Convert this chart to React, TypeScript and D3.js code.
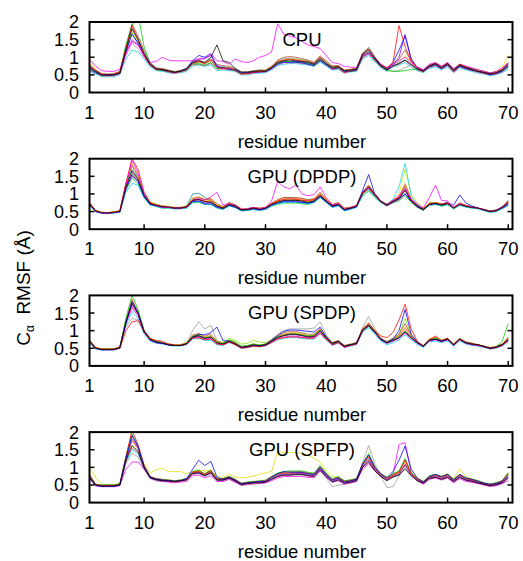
import React, { useEffect, useRef } from 'react';
import * as d3 from 'd3';

const residues = d3.range(1, 71);
const xTicks = [1, 10, 20, 30, 40, 50, 60, 70];
const yTicks = [0, 0.5, 1, 1.5, 2];
const yTickLabels = ['0', '0.5', '1', '1.5', '2'];
const panelTitles = ['CPU', 'GPU (DPDP)', 'GPU (SPDP)', 'GPU (SPFP)'];

// ---- CPU ----
const cpuRed = [.75,.62,.52,.5,.52,.58,1.25,1.9,1.5,1.05, .78,.65,.66,.6,.56,.6,.66,.82,.88,.82, .92,.72,.68,.7,.63,.52,.54,.57,.6,.6, .72,.88,.92,.95,.92,.9,.88,.82,1.0,.85, .68,.72,.56,.62,.66,1.08,1.2,.98,.78,.7, .85,1.9,1.3,.9,.7,.6,.74,.82,.7,.82, .6,.8,.72,.66,.6,.56,.52,.55,.65,.82];
const cpuGreen = [.68,.58,.48,.48,.5,.56,1.35,1.9,2.2,1.3, .82,.64,.62,.6,.58,.6,.64,.8,.82,.78, .85,.68,.7,.66,.62,.55,.55,.58,.6,.62, .7,.82,.88,.88,.86,.85,.82,.78,.92,.8, .7,.7,.6,.6,.64,1.0,1.12,.92,.74,.62, .6,.6,.62,.65,.66,.62,.74,.78,.7,.78, .62,.76,.7,.64,.6,.58,.52,.56,.62,.72];
const cpuBlue = [.65,.56,.5,.48,.5,.55,1.15,1.65,1.4,1.05, .78,.66,.64,.6,.56,.62,.68,.9,1.05,1.0, 1.1,.75,.7,.66,.64,.55,.56,.58,.58,.6, .68,.8,.86,.85,.86,.84,.8,.76,.9,.78, .66,.7,.6,.6,.64,1.05,1.15,.95,.75,.66, .85,1.2,1.6,.95,.7,.62,.72,.78,.68,.78, .6,.74,.68,.64,.6,.56,.5,.54,.6,.75];
const cpuMagenta = [.95,.75,.62,.6,.6,.66,1.1,1.5,1.35,1.05, .85,.88,1.0,.92,.9,.9,.9,.9,.95,.95, 1.1,.9,.88,.8,.95,.88,.85,.9,1.0,1.05, 1.15,1.95,1.65,1.6,1.55,1.45,1.35,1.3,1.25,1.05, .85,.82,.74,.72,.7,1.05,1.1,.98,.8,.7, .8,.9,1.0,.85,.72,.65,.8,.85,.75,.85, .68,.8,.75,.7,.65,.6,.55,.6,.7,.85];
const cpuBlack = [.7,.6,.5,.5,.5,.55,1.2,1.8,1.5,1.1, .8,.68,.65,.62,.58,.6,.66,.85,.9,.85, 1.0,1.35,.9,.85,.68,.58,.58,.6,.62,.6, .7,.85,.9,.92,.9,.88,.86,.8,.96,.82, .72,.74,.62,.64,.66,1.1,1.22,.98,.76,.64, .75,.82,.92,.8,.66,.6,.76,.82,.7,.82, .64,.78,.7,.66,.6,.57,.53,.56,.64,.8];
const cpuCyan = [.6,.52,.45,.44,.45,.5,.95,1.2,1.15,.95, .72,.62,.6,.56,.54,.56,.6,.75,.78,.74, .78,.62,.64,.62,.6,.5,.5,.54,.55,.56, .64,.76,.8,.82,.82,.8,.78,.74,.86,.75, .64,.65,.55,.58,.6,.95,1.05,.88,.7,.6, .72,.78,.85,.72,.62,.56,.68,.72,.64,.72, .56,.7,.64,.6,.55,.52,.48,.5,.56,.66];
const cpuPurple = [.72,.6,.5,.5,.5,.55,1.15,1.45,1.35,1.1, .8,.66,.64,.6,.56,.6,.65,.86,.95,.98, 1.05,.72,.7,.68,.64,.55,.55,.56,.6,.6, .7,.84,.86,.88,.88,.86,.82,.8,.92,.8, .7,.7,.6,.62,.64,1.02,1.12,.95,.75,.65, .78,1.0,1.65,.95,.7,.62,.74,.8,.7,.8, .62,.76,.7,.64,.6,.56,.52,.54,.62,.76];
const cpuYellow = [.9,.65,.52,.52,.52,.58,1.25,1.7,1.45,1.1, .82,.68,.66,.62,.58,.62,.66,.86,.86,.82, .9,.72,.72,.7,.66,.56,.56,.6,.62,.62, .72,.88,.95,.95,.95,.92,.88,.84,1.0,.86, .74,.75,.64,.66,.68,1.05,1.15,.98,.78,.68, .8,.88,1.05,.85,.72,.64,.78,.84,.74,.84, .66,.8,.74,.68,.64,.6,.56,.6,.72,1.05];
const cpuGray = [.76,.62,.52,.52,.52,.56,1.3,1.85,1.55,1.15, .82,.66,.66,.6,.56,.6,.66,.88,.86,.82, .92,.76,.74,.72,.66,.56,.56,.6,.6,.6, .72,.9,.96,.98,.96,.94,.9,.84,1.0,.86, .72,.72,.6,.62,.66,1.1,1.25,1.0,.78,.66, .6,.62,.7,.8,.7,.62,.76,.82,.72,.82, .62,.78,.72,.66,.6,.58,.54,.56,.64,.8];
const cpuTeal = [.74,.58,.48,.48,.48,.54,1.2,1.7,1.4,1.05, .8,.66,.64,.58,.56,.58,.64,.82,.8,.76, .84,.68,.68,.66,.62,.54,.54,.56,.58,.58, .68,.82,.88,.88,.88,.86,.84,.8,.94,.8, .68,.7,.58,.6,.62,1.02,1.12,.92,.74,.64, .76,.84,.92,.78,.66,.6,.72,.78,.68,.78, .6,.74,.68,.62,.58,.55,.5,.54,.6,.74];
const cpuSienna = [.8,.64,.54,.52,.54,.6,1.3,1.95,1.6,1.2, .85,.7,.68,.64,.6,.62,.68,.9,.92,.86, .95,.8,.76,.74,.68,.58,.58,.62,.64,.64, .75,.92,1.0,1.02,1.0,.96,.92,.86,1.04,.9, .76,.76,.64,.66,.7,1.12,1.28,1.02,.8,.7, .82,.95,1.2,.88,.72,.64,.78,.84,.74,.84, .66,.8,.74,.68,.64,.6,.56,.58,.66,.85];
const cpuPink = [.62,.55,.46,.46,.47,.52,1.05,1.4,1.25,1.0, .76,.64,.62,.58,.55,.58,.62,.78,.8,.76, .82,.66,.66,.64,.62,.52,.52,.55,.57,.58, .66,.78,.84,.84,.84,.82,.8,.76,.9,.78, .66,.68,.56,.6,.62,.98,1.08,.9,.72,.62, .74,.8,.9,.76,.64,.58,.7,.76,.66,.76, .58,.72,.66,.62,.57,.54,.5,.52,.58,.7];

// ---- GPU (DPDP) ----
const dpdpRed = [.75,.52,.47,.46,.48,.52,1.3,2.0,1.7,1.05, .75,.68,.64,.62,.6,.6,.64,.82,.85,.78, .8,.66,.6,.72,.66,.56,.56,.6,.58,.6, .72,.8,.85,.86,.85,.82,.8,.84,.98,.82, .68,.72,.56,.6,.66,1.05,1.2,1.0,.8,.68, .8,.9,1.15,.82,.66,.56,.72,.74,.7,.74, .6,.72,.66,.62,.6,.55,.5,.52,.62,.78];
const dpdpMagenta = [.72,.52,.46,.46,.47,.5,1.25,1.95,1.6,1.0, .72,.66,.62,.62,.6,.6,.62,.82,.85,.82, .92,1.05,.68,.72,.68,.56,.58,.62,.58,.62, .8,1.35,1.2,1.15,1.25,1.0,.95,.98,1.2,.9, .7,.72,.58,.62,.66,1.02,1.15,.96,.78,.7, .82,.95,1.15,.85,.72,.6,.9,1.25,.82,.8, .62,.72,.66,.62,.6,.55,.5,.54,.62,.76];
const dpdpBlue = [.7,.5,.46,.45,.47,.5,1.15,1.55,1.35,.92, .7,.68,.62,.62,.6,.6,.62,.78,.8,.72, .72,.62,.58,.68,.62,.54,.55,.58,.55,.58, .68,.74,.78,.78,.78,.76,.74,.78,.92,.78, .64,.68,.54,.58,.64,1.1,1.55,1.0,.8,.7, .8,.86,1.0,.8,.64,.55,.7,.72,.7,.75, .68,.97,.75,.66,.6,.55,.5,.52,.6,.7];
const dpdpCyan = [.68,.5,.45,.45,.46,.48,1.05,1.3,1.25,.88, .68,.64,.6,.6,.58,.58,.6,.76,.78,.7, .7,.62,.56,.66,.62,.52,.53,.56,.53,.56, .65,.72,.76,.76,.76,.74,.72,.76,.9,.76, .62,.66,.52,.56,.62,.95,1.1,.92,.76,.7, .85,1.2,1.87,.95,.7,.56,.68,.7,.66,.7, .58,.68,.63,.6,.58,.53,.48,.5,.58,.68];
const dpdpYellow = [.74,.54,.48,.47,.5,.52,1.2,1.55,1.45,1.0, .78,.7,.66,.64,.62,.62,.66,.82,.84,.8, .82,.68,.62,.72,.66,.56,.57,.6,.58,.6, .72,.78,.84,.84,.84,.82,.78,.82,.98,.84, .68,.72,.58,.62,.66,1.0,1.12,.96,.8,.72, .82,1.0,1.7,1.0,.75,.62,.74,.76,.7,.74, .62,.72,.66,.62,.6,.55,.5,.52,.6,.72];
const dpdpBlack = [.72,.52,.47,.46,.48,.5,1.2,1.65,1.42,.96, .72,.68,.64,.63,.6,.6,.63,.82,.84,.78, .76,.66,.6,.7,.66,.55,.56,.6,.56,.6, .7,.76,.82,.82,.82,.8,.76,.8,.96,.8, .66,.7,.56,.6,.65,1.02,1.2,.98,.78,.68, .78,.86,1.1,.8,.66,.56,.7,.74,.68,.72, .6,.7,.65,.62,.6,.55,.5,.53,.62,.76];
const dpdpGreen = [.66,.5,.45,.44,.46,.48,1.1,1.45,1.3,.9, .7,.64,.6,.6,.58,.58,.6,.75,.76,.7, .7,.6,.56,.66,.62,.52,.53,.56,.54,.56, .66,.7,.74,.74,.74,.72,.7,.76,.9,.76, .62,.68,.52,.58,.62,.95,1.08,.9,.75,.66, .75,.8,.95,.76,.62,.53,.68,.7,.65,.7, .58,.68,.63,.6,.58,.53,.48,.5,.58,.68];
const dpdpOrange = [.76,.54,.48,.47,.5,.52,1.3,1.85,1.55,1.0, .76,.7,.66,.64,.62,.62,.66,.88,.92,.85, .88,.7,.64,.74,.68,.58,.58,.62,.6,.62, .74,.82,.9,.9,.88,.86,.82,.86,1.02,.86, .7,.74,.6,.62,.68,1.05,1.25,1.0,.8,.7, .8,.9,1.3,.86,.68,.58,.74,.76,.72,.76, .62,.74,.68,.64,.6,.56,.52,.54,.62,.8];
const dpdpPurple = [.7,.52,.46,.46,.48,.5,1.15,1.5,1.38,.95, .72,.66,.62,.62,.6,.6,.62,.8,.8,.74, .76,.64,.6,.7,.64,.55,.55,.58,.56,.58, .7,.76,.8,.8,.8,.76,.74,.78,.94,.78, .64,.7,.55,.6,.64,1.0,1.15,.95,.78,.66, .76,.84,1.0,.8,.64,.55,.7,.72,.68,.72, .6,.7,.64,.62,.6,.55,.5,.52,.6,.7];
const dpdpTeal = [.72,.52,.47,.46,.48,.5,1.25,1.7,1.45,.98, .74,.68,.64,.62,.6,.6,.66,1.0,1.02,.9, .8,.66,.62,.7,.66,.56,.56,.6,.56,.6, .72,.78,.82,.82,.82,.8,.78,.82,.95,.8, .66,.72,.56,.6,.66,1.0,1.15,.95,.78,.7, .8,.88,1.1,.82,.66,.56,.72,.74,.7,.74, .62,.72,.66,.62,.6,.55,.52,.54,.62,.74];
const dpdpSienna = [.74,.53,.48,.47,.49,.52,1.28,1.8,1.5,1.0, .76,.7,.66,.64,.62,.62,.66,.86,.9,.84, .86,.72,.64,.76,.7,.58,.58,.62,.6,.62, .74,.84,.9,.9,.9,.88,.84,.86,1.05,.86, .7,.76,.6,.62,.68,1.05,1.25,1.0,.8,.7, .8,.92,1.25,.86,.68,.58,.74,.76,.72,.76, .62,.74,.68,.64,.6,.56,.52,.54,.64,.82];
const dpdpPink = [.7,.5,.46,.45,.47,.5,1.2,1.6,1.4,.94, .72,.66,.62,.62,.6,.6,.62,.82,.88,.82, .84,.66,.6,.7,.64,.55,.55,.58,.56,.58, .7,.8,.86,.86,.86,.84,.8,.8,.96,.8, .66,.7,.56,.6,.64,1.02,1.2,.96,.78,.68, .78,.9,1.2,.82,.66,.56,.72,.74,.7,.74, .6,.72,.66,.62,.6,.55,.5,.52,.6,.74];

// ---- GPU (SPDP) ----
const spdpGray = [.75,.5,.46,.46,.46,.5,1.1,1.35,1.3,.95, .72,.66,.64,.6,.58,.58,.64,1.0,1.25,1.05, 1.15,.72,.65,.72,.64,.52,.54,.58,.56,.6, .75,.9,1.0,1.05,1.05,1.05,1.05,1.08,1.25,.88, .66,.7,.56,.6,.66,1.1,1.4,1.05,.8,.7, .78,.85,1.0,.82,.68,.58,.75,.8,.72,.78, .62,.76,.68,.64,.6,.56,.52,.54,.62,.8];
const spdpBlue = [.68,.5,.46,.46,.46,.5,1.2,1.8,1.5,.98, .74,.66,.64,.6,.58,.58,.62,.82,.9,.88, .95,1.1,.72,.7,.62,.52,.54,.58,.56,.6, .72,.86,.98,1.02,1.02,1.0,.98,.96,1.1,.82, .64,.7,.56,.6,.64,1.02,1.15,.96,.76,.66, .76,1.0,1.6,.9,.68,.56,.72,.76,.7,.76, .6,.76,.66,.62,.6,.55,.5,.53,.6,.72];
const spdpRed = [.72,.52,.47,.47,.47,.5,1.0,1.25,1.28,1.0, .78,.72,.7,.62,.58,.58,.62,.78,.8,.74, .76,.62,.6,.68,.6,.5,.52,.56,.55,.58, .66,.76,.8,.82,.82,.8,.78,.78,.92,.75, .6,.66,.54,.58,.62,1.02,1.2,1.0,.85,.8, .95,1.3,1.75,1.05,.7,.56,.74,.85,.72,.78, .6,.75,.66,.62,.6,.55,.5,.52,.58,.72];
const spdpGreen = [.72,.5,.47,.47,.47,.52,1.35,2.0,1.6,1.0, .76,.68,.65,.6,.58,.58,.64,.84,.86,.8, .82,.66,.64,.74,.68,.56,.58,.62,.6,.62, .72,.82,.86,.9,.9,.88,.85,.86,1.0,.8, .62,.68,.56,.6,.64,1.0,1.12,.95,.76,.66, .74,.82,.98,.82,.66,.56,.74,.78,.72,.76, .6,.76,.66,.62,.6,.56,.5,.54,.7,1.2];
const spdpBlack = [.7,.5,.47,.47,.47,.52,1.25,1.75,1.48,.96, .75,.68,.65,.6,.58,.58,.63,.82,.86,.78, .82,.66,.62,.7,.63,.53,.55,.6,.57,.6, .7,.8,.86,.9,.9,.86,.82,.84,1.0,.8, .64,.7,.56,.6,.64,1.02,1.15,.96,.75,.66, .72,.8,.96,.8,.66,.56,.72,.76,.7,.76, .6,.76,.66,.62,.6,.55,.5,.53,.6,.76];
const spdpCyan = [.64,.48,.45,.45,.45,.5,1.15,1.55,1.35,.9, .7,.64,.62,.58,.56,.56,.6,.76,.78,.72, .72,.6,.58,.66,.6,.5,.52,.55,.54,.56, .66,.74,.78,.8,.8,.78,.76,.76,.92,.74, .58,.64,.52,.56,.6,.95,1.08,.9,.7,.6, .66,.74,.88,.74,.6,.52,.68,.7,.66,.7, .56,.7,.62,.58,.56,.52,.48,.5,.56,.68];
const spdpMagenta = [.7,.5,.46,.46,.46,.52,1.2,1.65,1.42,.95, .74,.66,.64,.6,.58,.58,.62,.8,.82,.76, .78,.64,.6,.68,.62,.52,.54,.58,.56,.58, .68,.78,.82,.84,.84,.82,.8,.8,.95,.76, .6,.66,.52,.58,.62,.98,1.12,.94,.74,.64, .7,.78,.92,.78,.64,.55,.7,.74,.68,.74, .58,.74,.64,.6,.58,.54,.48,.52,.58,.72];
const spdpLime = [.72,.52,.48,.48,.48,.53,1.3,1.8,1.5,.98, .76,.7,.66,.62,.6,.6,.64,.84,.88,.8, .84,.68,.66,.78,.72,.62,.64,.72,.68,.66, .74,.84,.9,.92,.92,.9,.86,.86,1.02,.8, .64,.7,.56,.6,.64,1.02,1.18,.98,.78,.68, .76,.88,1.35,.86,.68,.56,.74,.78,.72,.76, .62,.76,.66,.62,.6,.55,.5,.54,.62,.78];
const spdpOrange = [.74,.52,.48,.48,.48,.54,1.3,1.9,1.55,1.0, .78,.7,.66,.62,.6,.6,.66,.86,.9,.82, .86,.7,.64,.72,.66,.55,.56,.62,.58,.62, .72,.84,.9,.94,.94,.9,.86,.88,1.04,.82, .66,.72,.58,.62,.66,1.05,1.2,1.0,.78,.68, .76,.86,1.1,.84,.68,.57,.76,.8,.72,.78, .62,.78,.68,.64,.6,.56,.52,.55,.62,.8];
const spdpPurple = [.7,.5,.46,.46,.47,.52,1.25,1.85,1.52,.98, .74,.68,.64,.6,.58,.58,.62,.8,.84,.78, .8,.64,.6,.7,.62,.52,.54,.58,.56,.58, .68,.8,.86,.88,.88,.86,.82,.82,.98,.78, .6,.68,.54,.6,.62,1.0,1.14,.96,.74,.64, .72,.8,.96,.8,.64,.55,.72,.76,.7,.74, .6,.74,.64,.6,.58,.54,.5,.52,.6,.74];
const spdpSienna = [.72,.52,.48,.48,.48,.54,1.28,1.85,1.52,1.0, .78,.7,.66,.62,.6,.6,.66,.88,.92,.84, .9,.7,.64,.72,.66,.55,.56,.62,.58,.62, .74,.86,.94,.98,.98,.94,.9,.9,1.06,.84, .66,.72,.58,.62,.66,1.05,1.22,1.0,.78,.68, .78,.9,1.2,.86,.68,.57,.76,.8,.72,.78, .62,.78,.68,.64,.6,.56,.52,.55,.62,.82];
const spdpPink = [.7,.5,.46,.46,.46,.52,1.22,1.7,1.45,.95, .74,.68,.64,.6,.58,.58,.62,.82,.84,.78, .82,.66,.6,.7,.62,.52,.54,.58,.56,.6, .7,.82,.88,.9,.9,.88,.84,.84,1.0,.8, .62,.68,.55,.6,.64,1.0,1.16,.95,.75,.66, .74,.84,1.05,.8,.66,.56,.72,.76,.7,.76, .6,.76,.66,.62,.6,.55,.5,.53,.6,.76];

// ---- GPU (SPFP) ----
const spfpYellow = [1.0,.72,.52,.5,.5,.55,1.15,1.6,1.45,1.1, .85,.93,.98,.88,.88,.88,.82,.88,.92,.9, .92,.75,.72,.8,.72,.7,.72,.75,.8,.85, .88,1.45,1.42,1.42,1.42,1.4,1.35,1.25,1.15,.9, .75,.72,.62,.64,.68,1.05,1.2,.98,.8,.7, .78,.86,1.05,.85,.7,.6,.75,.8,.74,.82, .68,.95,.75,.68,.62,.56,.52,.56,.62,.8];
const spfpGray = [.72,.5,.47,.47,.47,.5,1.1,1.4,1.3,.95, .68,.62,.6,.6,.58,.6,.62,.8,.82,.74, .8,.62,.6,.66,.58,.48,.5,.52,.54,.56, .64,.74,.78,.78,.78,.78,.76,.74,.92,.7, .45,.5,.52,.55,.6,1.15,1.62,1.1,.75,.43, .45,.75,1.0,.78,.62,.54,.68,.72,.66,.72, .58,.7,.62,.58,.55,.5,.46,.48,.55,.68];
const spfpBlue = [.7,.48,.46,.46,.46,.5,1.25,1.9,1.6,1.02, .72,.66,.64,.62,.6,.62,.68,.95,1.2,1.05, 1.17,.72,.66,.72,.64,.54,.56,.58,.6,.6, .72,.82,.88,.86,.86,.86,.82,.8,1.0,.8, .64,.7,.58,.62,.66,1.1,1.35,1.0,.82,.7, .88,1.2,1.6,.95,.7,.58,.74,.8,.74,.8, .64,.8,.7,.66,.6,.55,.52,.54,.6,.78];
const spfpMagenta = [.68,.48,.45,.45,.45,.48,.95,1.15,1.15,.95, .7,.62,.6,.58,.56,.58,.6,.76,.78,.7, .76,.6,.6,.66,.58,.5,.52,.54,.55,.56, .62,.7,.74,.74,.74,.74,.72,.7,.9,.72, .58,.62,.52,.56,.6,.95,1.1,.9,.74,.64, .78,1.65,1.7,.85,.62,.52,.66,.7,.64,.7, .56,.68,.6,.58,.54,.5,.46,.48,.54,.62];
const spfpRed = [.78,.52,.48,.48,.48,.52,1.3,2.05,1.65,1.05, .72,.68,.64,.63,.6,.62,.66,.86,.88,.8, .9,.66,.66,.72,.64,.54,.56,.58,.6,.62, .72,.8,.84,.84,.85,.85,.82,.8,1.0,.8, .64,.7,.6,.62,.66,1.08,1.3,.98,.8,.68, .78,.86,1.2,.82,.66,.58,.72,.78,.72,.78, .64,.78,.68,.64,.6,.54,.5,.54,.6,.82];
const spfpBlack = [.72,.5,.47,.47,.47,.5,1.2,1.62,1.45,.98, .7,.65,.62,.62,.6,.62,.65,.82,.84,.76, .85,.64,.64,.7,.62,.52,.54,.56,.56,.58, .66,.74,.78,.78,.8,.8,.76,.74,.92,.74, .58,.64,.55,.58,.62,1.0,1.15,.9,.74,.62, .72,.78,.95,.76,.62,.55,.68,.72,.66,.72, .6,.72,.64,.6,.56,.52,.48,.5,.56,.7];
const spfpGreen = [.8,.52,.5,.5,.5,.54,1.3,1.95,1.6,1.05, .74,.68,.66,.64,.62,.64,.68,.88,.92,.82, .92,.68,.68,.74,.66,.55,.58,.6,.62,.64, .74,.84,.88,.9,.9,.9,.86,.84,1.05,.84, .68,.74,.62,.64,.68,1.1,1.4,1.02,.82,.72, .82,.9,1.25,.86,.68,.6,.76,.8,.74,.8, .66,.8,.7,.66,.62,.56,.52,.56,.62,.85];
const spfpCyan = [.7,.5,.47,.47,.47,.5,1.15,1.5,1.4,1.0, .7,.64,.62,.62,.6,.62,.64,.84,.86,.78, .86,.64,.64,.7,.62,.52,.54,.56,.58,.6, .7,.78,.82,.82,.82,.82,.8,.78,.96,.78, .62,.68,.58,.6,.64,1.04,1.22,.95,.76,.66, .74,.82,1.08,.8,.64,.56,.7,.74,.7,.74, .62,.74,.66,.62,.58,.53,.5,.52,.58,.74];
const spfpOrange = [.76,.5,.48,.48,.48,.5,1.2,1.75,1.52,1.0, .72,.66,.64,.62,.6,.62,.65,.86,.88,.8, .9,.66,.66,.72,.64,.52,.56,.58,.58,.6, .72,.8,.84,.84,.84,.84,.82,.8,.98,.8, .64,.7,.6,.62,.66,1.06,1.28,.96,.8,.66, .76,.84,1.12,.82,.66,.58,.72,.76,.72,.76, .64,.76,.68,.64,.6,.54,.5,.54,.6,.76];
const spfpPurple = [.72,.5,.48,.48,.48,.5,1.2,1.8,1.55,1.0, .7,.66,.62,.6,.6,.62,.65,.84,.86,.78, .86,.64,.64,.7,.6,.5,.54,.56,.58,.58, .68,.76,.8,.8,.82,.82,.78,.76,.96,.76, .6,.66,.56,.58,.64,1.02,1.22,.94,.76,.64, .74,.8,1.08,.78,.64,.56,.7,.74,.68,.74, .6,.74,.64,.62,.56,.52,.48,.52,.58,.72];
const spfpSienna = [.78,.52,.5,.5,.5,.52,1.28,1.9,1.58,1.04, .74,.68,.66,.64,.62,.64,.68,.88,.9,.82, .92,.68,.68,.74,.66,.54,.58,.6,.6,.62, .74,.82,.86,.88,.88,.88,.84,.82,1.02,.82, .66,.72,.62,.64,.68,1.08,1.35,1.0,.82,.7, .8,.88,1.22,.84,.68,.6,.74,.8,.74,.8, .66,.8,.7,.66,.62,.56,.52,.56,.62,.84];
const spfpPink = [.72,.5,.47,.47,.47,.5,1.15,1.55,1.4,.98, .7,.64,.62,.6,.58,.6,.64,.82,.84,.76, .84,.62,.62,.68,.6,.5,.52,.54,.56,.58, .66,.74,.78,.78,.8,.8,.76,.74,.94,.76, .6,.66,.56,.58,.62,1.0,1.18,.92,.76,.64, .74,.8,1.05,.78,.62,.55,.68,.72,.68,.72, .6,.72,.64,.6,.56,.52,.48,.5,.56,.7];

const C = {
  red: '#ff0000', green: '#00d000', blue: '#0000ff', magenta: '#ff00ff', cyan: '#00d8e8',
  black: '#000000', yellow: '#e0e000', orange: '#ff9000', purple: '#9400d3', gray: '#999999',
  teal: '#008b8b', lime: '#80e000', sienna: '#a0522d', pink: '#ff5fa0'
};

const panels = [
  [
    { color: C.cyan, values: cpuCyan }, { color: C.teal, values: cpuTeal }, { color: C.yellow, values: cpuYellow },
    { color: C.pink, values: cpuPink }, { color: C.sienna, values: cpuSienna },
    { color: C.gray, values: cpuGray }, { color: C.purple, values: cpuPurple }, { color: C.green, values: cpuGreen },
    { color: C.blue, values: cpuBlue }, { color: C.magenta, values: cpuMagenta }, { color: C.red, values: cpuRed },
    { color: C.black, values: cpuBlack }
  ],
  [
    { color: C.green, values: dpdpGreen }, { color: C.teal, values: dpdpTeal }, { color: C.orange, values: dpdpOrange },
    { color: C.pink, values: dpdpPink }, { color: C.sienna, values: dpdpSienna },
    { color: C.purple, values: dpdpPurple }, { color: C.yellow, values: dpdpYellow }, { color: C.cyan, values: dpdpCyan },
    { color: C.blue, values: dpdpBlue }, { color: C.red, values: dpdpRed }, { color: C.magenta, values: dpdpMagenta },
    { color: C.black, values: dpdpBlack }
  ],
  [
    { color: C.cyan, values: spdpCyan }, { color: C.gray, values: spdpGray }, { color: C.lime, values: spdpLime },
    { color: C.pink, values: spdpPink }, { color: C.sienna, values: spdpSienna },
    { color: C.orange, values: spdpOrange }, { color: C.purple, values: spdpPurple }, { color: C.magenta, values: spdpMagenta },
    { color: C.green, values: spdpGreen }, { color: C.blue, values: spdpBlue }, { color: C.red, values: spdpRed },
    { color: C.black, values: spdpBlack }
  ],
  [
    { color: C.yellow, values: spfpYellow }, { color: C.gray, values: spfpGray }, { color: C.magenta, values: spfpMagenta },
    { color: C.pink, values: spfpPink }, { color: C.sienna, values: spfpSienna },
    { color: C.cyan, values: spfpCyan }, { color: C.orange, values: spfpOrange }, { color: C.purple, values: spfpPurple },
    { color: C.green, values: spfpGreen }, { color: C.red, values: spfpRed }, { color: C.blue, values: spfpBlue },
    { color: C.black, values: spfpBlack }
  ]
];

const W = 523;
const H = 561;
const FONT = '"Liberation Sans", Arial, Helvetica, sans-serif';

const App = () => {
  const ref = useRef<SVGSVGElement>(null);

  useEffect(() => {
    const svg = d3.select(ref.current);
    svg.selectAll('*').remove();

    const left = 89.5;
    const right = 512.5;
    const plotH = 70.5;
    const step = 136.7;

    const x = d3.scaleLinear().domain([1, 70.7]).range([left, right]);

    panels.forEach((runs, i) => {
      const top = 22 + i * step;
      const bottom = top + plotH;
      const y = d3.scaleLinear().domain([0, 2]).range([bottom, top]);
      const g = svg.append('g');

      g.append('clipPath').attr('id', `clip${i}`)
        .append('rect').attr('x', left).attr('y', top).attr('width', right - left).attr('height', plotH);

      const line = d3.line<number>()
        .x((d, j) => x(residues[j]))
        .y(d => y(d));

      g.append('g').attr('clip-path', `url(#clip${i})`)
        .selectAll('path')
        .data(runs)
        .join('path')
        .attr('d', d => line(d.values))
        .attr('fill', 'none')
        .attr('stroke', d => d.color)
        .attr('stroke-width', 0.9)
        .attr('stroke-opacity', 0.85)
        .attr('stroke-linejoin', 'round');

      // title inside the box
      g.append('text')
        .attr('x', 302).attr('y', top + 24)
        .attr('text-anchor', 'middle')
        .style('font-family', FONT).style('font-size', '18.5px')
        .text(panelTitles[i]);

      // ticks: y on both sides, x at bottom only
      yTicks.filter(t => t > 0 && t < 2).forEach(t => {
        g.append('line').attr('x1', left).attr('x2', left + 5).attr('y1', y(t)).attr('y2', y(t)).attr('stroke', '#000').attr('stroke-width', 1.5);
        g.append('line').attr('x1', right - 5).attr('x2', right).attr('y1', y(t)).attr('y2', y(t)).attr('stroke', '#000').attr('stroke-width', 1.5);
      });
      xTicks.filter(t => t > 1).forEach(t => {
        g.append('line').attr('x1', x(t)).attr('x2', x(t)).attr('y1', bottom).attr('y2', bottom - 5).attr('stroke', '#000').attr('stroke-width', 1.5);
      });

      g.append('rect')
        .attr('x', left).attr('y', top).attr('width', right - left).attr('height', plotH)
        .attr('fill', 'none').attr('stroke', '#000').attr('stroke-width', 2);

      g.selectAll('.ylab')
        .data(yTicks)
        .join('text')
        .attr('class', 'ylab')
        .attr('x', 79).attr('y', d => y(d)).attr('dy', '0.36em')
        .attr('text-anchor', 'end')
        .style('font-family', FONT).style('font-size', '18px')
        .text((d, j) => yTickLabels[j]);

      g.selectAll('.xlab')
        .data(xTicks)
        .join('text')
        .attr('class', 'xlab')
        .attr('x', d => x(d)).attr('y', bottom + 26)
        .attr('text-anchor', 'middle')
        .style('font-family', FONT).style('font-size', '18.5px')
        .text(d => d);

      g.append('text')
        .attr('x', 302).attr('y', bottom + 55)
        .attr('text-anchor', 'middle')
        .style('font-family', FONT).style('font-size', '18.5px')
        .text('residue number');
    });

    const yl = svg.append('text')
      .attr('transform', 'translate(30, 288) rotate(-90)')
      .attr('text-anchor', 'middle')
      .style('font-family', FONT).style('font-size', '19px');
    yl.append('tspan').text('C');
    yl.append('tspan').attr('dy', 4).style('font-size', '12px').text('α');
    yl.append('tspan').attr('dy', -4).text('\u00a0 RMSF (Å)');
  }, []);

  return (
    <svg ref={ref} width={W} height={H}
      style={{ position: 'absolute', left: 0, top: 0, background: '#fff' }} />
  );
};

export default App;
